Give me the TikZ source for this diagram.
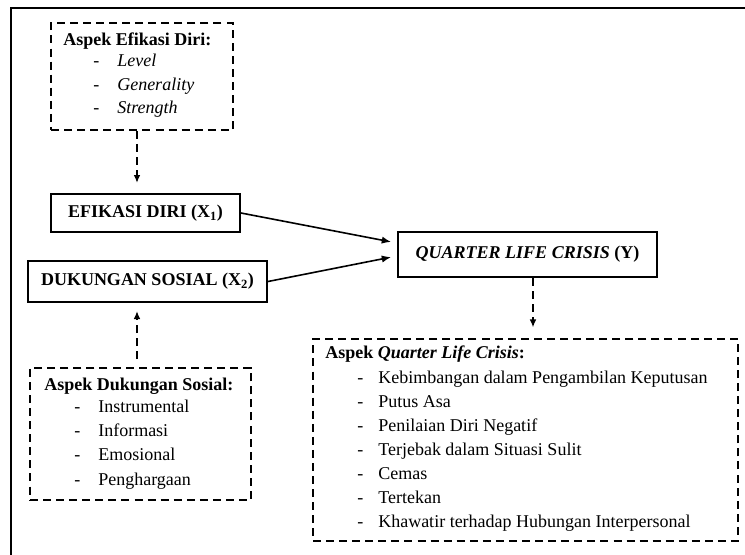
\documentclass[tikz,border=0pt]{standalone}
\usepackage{fontspec}
\setmainfont{Liberation Serif}
\usetikzlibrary{arrows.meta}
\begin{document}
\begin{tikzpicture}[x=0.75pt,y=-0.75pt,
  txt/.style={font=\fontsize{13.5}{16}\selectfont, inner sep=0pt, anchor=mid west},
  sbox/.style={draw, line width=1.5pt, inner sep=0pt, font=\fontsize{13.5}{16}\selectfont\bfseries},
  dbox/.style={draw, line width=1.3pt, dash pattern=on 6pt off 3.8pt, inner sep=0pt},
  darrow/.style={line width=1.3pt, dash pattern=on 6pt off 3.8pt, -{Latex[length=6pt,width=5pt]}},
  sarrow/.style={line width=1.2pt, -{Latex[length=7pt,width=5.5pt]}}
]
\useasboundingbox (0,0) rectangle (745,554);
% outer frame (right and bottom cut off)
\coordinate (fa) at (11,560);
\coordinate (fb) at (11,8);
\coordinate (fc) at (750,8);
\draw[line width=1.2pt] (fa) -- (fb) -- (fc);

% boxes
\node[dbox, minimum width=136.5pt, minimum height=80.25pt] (A) at (142,76.5) {};
\node[sbox, minimum width=141.75pt, minimum height=28.5pt] (B) at (145.5,213) {EFIKASI DIRI (X\textsubscript{1})};
\node[sbox, minimum width=179.25pt, minimum height=30.75pt] (C) at (147.5,281.5) {DUKUNGAN SOSIAL (X\textsubscript{2})};
\node[sbox, minimum width=194.25pt, minimum height=33.75pt] (D) at (527.5,254.5) {\textit{QUARTER LIFE CRISIS} (Y)};
\node[dbox, minimum width=318.75pt, minimum height=151.5pt] (E) at (525.5,440) {};
\node[dbox, minimum width=165.75pt, minimum height=99pt] (F) at (140.5,434) {};

% texts box A
\node[txt] (a0) at (63,42) {\textbf{Aspek Efikasi Diri:}};
\node[txt] (a1d) at (93,63) {-};
\node[txt] (a1) at (117,63) {\textit{Level}};
\node[txt] (a2d) at (93,87) {-};
\node[txt] (a2) at (117,87) {\textit{Generality}};
\node[txt] (a3d) at (93,110) {-};
\node[txt] (a3) at (117,110) {\textit{Strength}};

% texts box F
\node[txt] (f0) at (44,387) {\textbf{Aspek Dukungan Sosial:}};
\node[txt] (f1d) at (74,409) {-};
\node[txt] (f1) at (98,409) {Instrumental};
\node[txt] (f2d) at (74,433) {-};
\node[txt] (f2) at (98,433) {Informasi};
\node[txt] (f3d) at (74,457) {-};
\node[txt] (f3) at (98,457) {Emosional};
\node[txt] (f4d) at (74,482) {-};
\node[txt] (f4) at (98,482) {Penghargaan};

% texts box E
\node[txt] (e0) at (325,355) {\textbf{Aspek \textit{Quarter Life Crisis}:}};
\node[txt] (e1d) at (357,380) {-};
\node[txt] (e1) at (378,380) {Kebimbangan dalam Pengambilan Keputusan};
\node[txt] (e2d) at (357,404) {-};
\node[txt] (e2) at (378,404) {Putus Asa};
\node[txt] (e3d) at (357,428) {-};
\node[txt] (e3) at (378,428) {Penilaian Diri Negatif};
\node[txt] (e4d) at (357,452) {-};
\node[txt] (e4) at (378,452) {Terjebak dalam Situasi Sulit};
\node[txt] (e5d) at (357,476) {-};
\node[txt] (e5) at (378,476) {Cemas};
\node[txt] (e6d) at (357,500) {-};
\node[txt] (e6) at (378,500) {Tertekan};
\node[txt] (e7d) at (357,524) {-};
\node[txt] (e7) at (378,524) {Khawatir terhadap Hubungan Interpersonal};

% connectors
\coordinate (xab) at (137,0);
\coordinate (xde) at (533,0);
\draw[darrow, shorten >=7.5pt] (A.south -| xab) -- (B.north -| xab);
\draw[darrow, shorten <=6pt, shorten >=6pt] (F.north -| xab) -- (C.south -| xab);
\draw[darrow, shorten >=8pt] (D.south -| xde) -- (E.north -| xde);
\draw[sarrow, shorten >=4.5pt] (B.east) -- ([yshift=8.6pt]D.west);
\draw[sarrow, shorten >=4.5pt] (C.east) -- ([yshift=-1.1pt]D.west);
\end{tikzpicture}
\end{document}
